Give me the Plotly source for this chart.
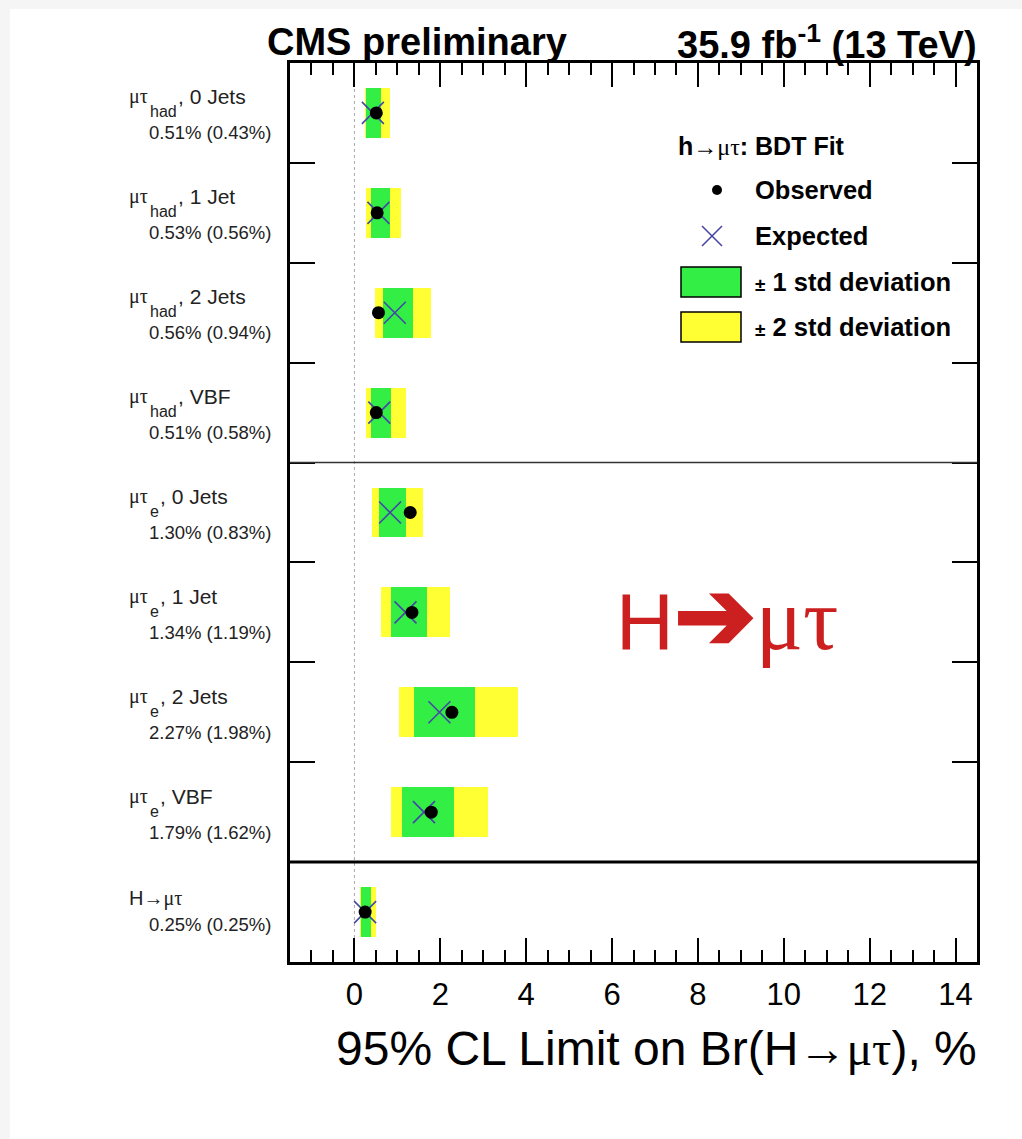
import plotly.graph_objects as go

# Channels (top to bottom) and the 95% CL limits, in percent
channel = ["μτ_had", "μτ_had", "μτ_had", "μτ_had", "μτ_e", "μτ_e", "μτ_e", "μτ_e", "H→μτ"]
category = ["0 Jets", "1 Jet", "2 Jets", "VBF", "0 Jets", "1 Jet", "2 Jets", "VBF", ""]
observed = [0.51, 0.53, 0.56, 0.51, 1.30, 1.34, 2.27, 1.79, 0.25]
expected = [0.43, 0.56, 0.94, 0.58, 0.83, 1.19, 1.98, 1.62, 0.25]
minus2 = [0.24, 0.27, 0.47, 0.27, 0.41, 0.62, 1.05, 0.85, 0.13]
minus1 = [0.28, 0.39, 0.66, 0.39, 0.58, 0.85, 1.38, 1.11, 0.16]
plus1 = [0.62, 0.83, 1.36, 0.86, 1.19, 1.69, 2.82, 2.32, 0.39]
plus2 = [0.83, 1.09, 1.79, 1.19, 1.59, 2.23, 3.82, 3.11, 0.50]

x_range = [-1.5, 14.5]
n_rows = len(channel)
rows = [n_rows - 0.5 - i for i in range(n_rows)]

W, H = 1022, 1139
ML, MR, MT, MB = 290, 45, 63, 177
PW, PH = W - ML - MR, H - MT - MB
ROW_PX = PH / n_rows

GREEN = "#33ee44"
YELLOW = "#ffff33"
XCOL = "#4646a8"
SANS = "Liberation Sans, Arial"
SERIF = "Liberation Serif, Times New Roman"


def px(x):
    return (x - ML) / PW


def py(y):
    return (H - MB - y) / PH


fig = go.Figure()

# +-2 sigma band, then +-1 sigma band on top
fig.add_trace(go.Bar(
    y=rows, x=[b - a for a, b in zip(minus2, plus2)], base=minus2,
    orientation="h", width=0.5, marker=dict(color=YELLOW, line=dict(width=0)),
    showlegend=False, hoverinfo="skip"))
fig.add_trace(go.Bar(
    y=rows, x=[b - a for a, b in zip(minus1, plus1)], base=minus1,
    orientation="h", width=0.5, marker=dict(color=GREEN, line=dict(width=0)),
    showlegend=False, hoverinfo="skip"))

fig.add_trace(go.Scatter(
    x=expected, y=rows, mode="markers",
    marker=dict(symbol="x-thin-open", size=22, color=XCOL,
                line=dict(width=1.6, color=XCOL)),
    showlegend=False, hoverinfo="skip"))
fig.add_trace(go.Scatter(
    x=observed, y=rows, mode="markers",
    marker=dict(symbol="circle", size=13, color="black"),
    showlegend=False, hoverinfo="skip"))

shapes = []
annotations = []

# Soft grey edge on the left and top of the page
shapes.append(dict(type="rect", xref="paper", yref="paper", layer="below",
                   x0=px(0), x1=px(10), y0=py(H), y1=py(0),
                   fillcolor="#f5f5f5", line=dict(width=0)))
shapes.append(dict(type="rect", xref="paper", yref="paper", layer="below",
                   x0=px(0), x1=px(W), y0=py(9), y1=py(0),
                   fillcolor="#f5f5f5", line=dict(width=0)))

# Zero reference line
shapes.append(dict(type="line", xref="x", yref="paper", x0=0, x1=0, y0=0, y1=1,
                   line=dict(color="#aaaaaa", width=1, dash="dot"), layer="below"))
# Separators between the tau_had / tau_e / combined groups
shapes.append(dict(type="line", xref="paper", yref="y", x0=0, x1=1, y0=5, y1=5,
                   line=dict(color="#333333", width=1.5)))
shapes.append(dict(type="line", xref="paper", yref="y", x0=0, x1=1, y0=1, y1=1,
                   line=dict(color="black", width=3)))


def label(x_px, y_val, text, size, anchor="left"):
    annotations.append(dict(xref="paper", yref="y", x=px(x_px), y=y_val,
                            xanchor=anchor, yanchor="middle", showarrow=False,
                            text=text, font=dict(family=SANS, size=size, color="#222")))


# Row labels: channel with subscript on the first line, limits on the second
SUB_SIZE = 16
for r, ch, cat, o, e in zip(rows, channel, category, observed, expected):
    if "_" in ch:
        base, sub = ch.split("_")
        label(127, r + 16 / ROW_PX, f"<span style='font-family:{SERIF}'>{base}</span>", 20)
        label(148, r + 1 / ROW_PX, sub, SUB_SIZE)
        x_rest = 148 + 0.556 * SUB_SIZE * len(sub) + 1
        label(x_rest, r + 16 / ROW_PX, f", {cat}", 21)
        dy2 = -20 / ROW_PX
    else:
        label(127, r + 14 / ROW_PX, f"H<span style='font-family:{SERIF}'>→μτ</span>", 20)
        dy2 = -12 / ROW_PX
    label(273, r + dy2, f"{o:.2f}% ({e:.2f}%)", 18.5, anchor="right")

# Header texts
annotations.append(dict(xref="paper", yref="paper", x=px(265), y=py(42),
                        xanchor="left", yanchor="middle", showarrow=False,
                        text="<b>CMS preliminary</b>",
                        font=dict(family=SANS, size=38, color="black")))
annotations.append(dict(xref="paper", yref="paper", x=px(979), y=py(42),
                        xanchor="right", yanchor="middle", showarrow=False,
                        text="<b>35.9 fb<sup>-1</sup> (13 TeV)</b>",
                        font=dict(family=SANS, size=38, color="black")))

# Axis title
annotations.append(dict(xref="paper", yref="paper", x=px(979), y=py(1048),
                        xanchor="right", yanchor="middle", showarrow=False,
                        text=f"95% CL Limit on Br(H<span style='font-family:{SERIF}'>→μτ</span>), %",
                        font=dict(family=SANS, size=48, color="black")))

# Big channel label
annotations.append(dict(xref="paper", yref="paper", x=px(727), y=py(615),
                        xanchor="center", yanchor="middle", showarrow=False,
                        text=(f"H<span style='font-size:98px'><b>➔</b></span>"
                              f"<span style='font-family:{SERIF};font-size:88px'>μτ</span>"),
                        font=dict(family=SANS, size=80, color="#cc2020")))

# Legend block
annotations.append(dict(xref="paper", yref="paper", x=px(676), y=py(146),
                        xanchor="left", yanchor="middle", showarrow=False,
                        text=(f"<b>h</b><span style='font-family:{SERIF};font-size:24px'>→μτ</span>"
                              "<b>: BDT Fit</b>"),
                        font=dict(family=SANS, size=25, color="black")))
legend_rows = [("Observed", 190), ("Expected", 236),
               ("<span style='font-size:19px'>±</span> 1 std deviation", 282),
               ("<span style='font-size:19px'>±</span> 2 std deviation", 327)]
for txt, yy in legend_rows:
    annotations.append(dict(xref="paper", yref="paper", x=px(753), y=py(yy),
                            xanchor="left", yanchor="middle", showarrow=False,
                            text=f"<b>{txt}</b>",
                            font=dict(family=SANS, size=25.5, color="black")))
# dot
shapes.append(dict(type="circle", xref="paper", yref="paper",
                   x0=px(712), x1=px(722), y0=py(195), y1=py(185),
                   fillcolor="black", line=dict(width=0)))
# cross
shapes.append(dict(type="line", xref="paper", yref="paper",
                   x0=px(702), x1=px(722), y0=py(226), y1=py(246),
                   line=dict(color=XCOL, width=1.6)))
shapes.append(dict(type="line", xref="paper", yref="paper",
                   x0=px(702), x1=px(722), y0=py(246), y1=py(226),
                   line=dict(color=XCOL, width=1.6)))
# colour boxes
for col, y0, y1 in [(GREEN, 267, 297), (YELLOW, 312, 342)]:
    shapes.append(dict(type="rect", xref="paper", yref="paper",
                       x0=px(681), x1=px(741), y0=py(y1), y1=py(y0),
                       fillcolor=col, line=dict(color="black", width=1.5)))

fig.update_layout(
    width=W, height=H,
    margin=dict(l=ML, r=MR, t=MT, b=MB, pad=0),
    paper_bgcolor="white", plot_bgcolor="white",
    barmode="overlay", bargap=0,
    shapes=shapes, annotations=annotations,
    showlegend=False,
)
fig.update_xaxes(
    range=x_range, tickmode="linear", tick0=0, dtick=2,
    ticks="inside", ticklen=24, tickwidth=1.5, tickcolor="black",
    minor=dict(tickmode="linear", tick0=0, dtick=0.5, ticks="inside",
               ticklen=12, tickwidth=1.5, tickcolor="black", showgrid=False),
    showline=True, linewidth=3, linecolor="black", mirror="ticks",
    showgrid=False, zeroline=False,
    tickfont=dict(family=SANS, size=31, color="black"),
    ticklabelstandoff=3,
)
fig.update_yaxes(
    range=[0, n_rows], tickmode="array", tickvals=list(range(1, n_rows)),
    ticks="inside", ticklen=25, tickwidth=1.5, tickcolor="black",
    showticklabels=False,
    showline=True, linewidth=3, linecolor="black", mirror="ticks",
    showgrid=False, zeroline=False,
)

fig.write_html("out.html")
